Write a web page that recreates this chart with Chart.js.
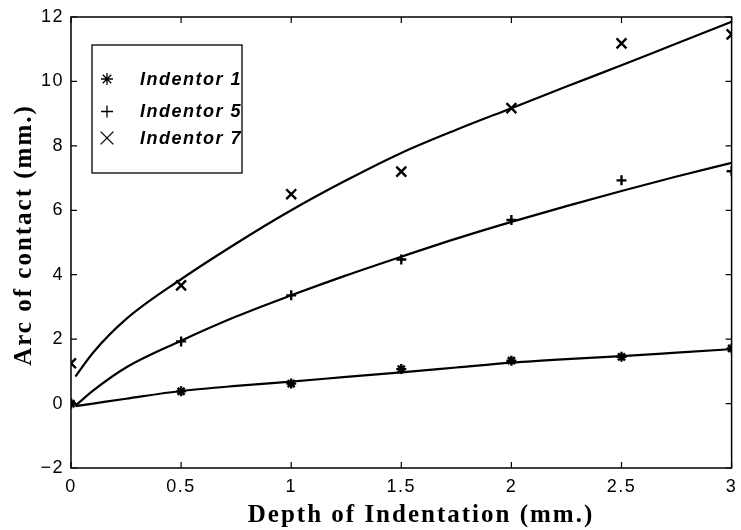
<!DOCTYPE html>
<html>
<head>
<meta charset="utf-8">
<script src="https://cdn.jsdelivr.net/npm/chart.js@4/dist/chart.umd.min.js"></script>
<style>
  html, body { margin: 0; padding: 0; background: #fff; }
  #plot { display: block; }
</style>
</head>
<body>
<canvas id="plot" width="741" height="530"></canvas>
<script>
// measured points, depth in mm
const depth = [0, 0.5, 1, 1.5, 2, 2.5, 3];
const indentor1 = [0, 0.38, 0.62, 1.07, 1.33, 1.45, 1.71];
const indentor5 = [0, 1.93, 3.36, 4.47, 5.70, 6.93, 7.21];
const indentor7 = [1.25, 3.67, 6.50, 7.20, 9.17, 11.18, 11.46];

// fitted curves
const fitDepth = [0.02, 0.1, 0.25, 0.5, 0.75, 1, 1.25, 1.5, 1.75, 2, 2.25, 2.5, 2.75, 3];
const fit1 = [-0.08, 0.0, 0.15, 0.39, 0.55, 0.68, 0.83, 0.97, 1.12, 1.27, 1.38, 1.47, 1.58, 1.69];
const fit5 = [-0.07, 0.40, 1.12, 1.95, 2.70, 3.36, 3.98, 4.56, 5.12, 5.64, 6.13, 6.60, 7.05, 7.47];
const fit7 = [0.84, 1.58, 2.62, 3.86, 4.97, 6.00, 6.93, 7.78, 8.50, 9.17, 9.84, 10.50, 11.18, 11.85];

const xTicks = [0, 0.5, 1, 1.5, 2, 2.5, 3];
const yTicks = [-2, 0, 2, 4, 6, 8, 10, 12];

const xTitle = 'Depth of Indentation (mm.)';
const yTitle = 'Arc of contact (mm.)';

const pts = (xs, ys) => xs.map((x, i) => ({ x, y: ys[i] }));

function markers(label, ys, style, r) {
  return {
    label, data: pts(depth, ys), showLine: false,
    pointStyle: style, pointRadius: r, borderColor: '#000', backgroundColor: '#000',
    pointBorderWidth: 2.4, order: 1
  };
}
function curve(ys) {
  return {
    label: 'fit', data: pts(fitDepth, ys), showLine: true,
    pointRadius: 0, borderColor: '#000', borderWidth: 2.2,
    cubicInterpolationMode: 'monotone', order: 2
  };
}

const SANS = '"Liberation Sans", Arial, sans-serif';
const SERIF = '"Liberation Serif", "Times New Roman", serif';

// box, inward ticks, axis titles and the legend
const frame = {
  id: 'frame',
  beforeDraw(chart) {
    chart.ctx.letterSpacing = '1.5px';
  },
  afterDraw(chart) {
    const { ctx, chartArea: a, scales: { x, y } } = chart;
    ctx.save();
    ctx.letterSpacing = '0px';
    ctx.strokeStyle = '#000';
    ctx.fillStyle = '#000';
    ctx.lineWidth = 1.5;
    ctx.strokeRect(a.left, a.top, a.right - a.left, a.bottom - a.top);

    ctx.lineWidth = 1.2;
    ctx.beginPath();
    xTicks.forEach(v => {
      const px = x.getPixelForValue(v);
      ctx.moveTo(px, a.bottom); ctx.lineTo(px, a.bottom - 6);
      ctx.moveTo(px, a.top); ctx.lineTo(px, a.top + 6);
    });
    yTicks.forEach(v => {
      const py = y.getPixelForValue(v);
      ctx.moveTo(a.left, py); ctx.lineTo(a.left + 6, py);
      ctx.moveTo(a.right, py); ctx.lineTo(a.right - 6, py);
    });
    ctx.stroke();

    // axis titles
    ctx.font = 'bold 25px ' + SERIF;
    ctx.letterSpacing = '2px';
    ctx.textAlign = 'center';
    ctx.textBaseline = 'alphabetic';
    ctx.fillText(xTitle, 421, 522);
    ctx.save();
    ctx.translate(31, 235);
    ctx.rotate(-Math.PI / 2);
    ctx.fillText(yTitle, 0, 0);
    ctx.restore();

    // legend
    const box = { left: 92, top: 45, right: 242, bottom: 173 };
    ctx.lineWidth = 1.3;
    ctx.strokeRect(box.left, box.top, box.right - box.left, box.bottom - box.top);
    ctx.save();
    ctx.beginPath();
    ctx.rect(box.left, box.top, box.right - box.left, box.bottom - box.top);
    ctx.clip();
    const rows = [79, 111.5, 138];
    const sizes = { star: 6, cross: 6, crossRot: 9 };
    chart.data.datasets.filter(d => !d.showLine).forEach((d, i) => {
      ctx.lineWidth = 1.3;
      Chart.helpers.drawPoint(ctx, {
        pointStyle: d.pointStyle, rotation: 0,
        radius: sizes[d.pointStyle], borderWidth: 1.3
      }, 107, rows[i]);
      ctx.font = 'italic bold 18px ' + SANS;
      ctx.letterSpacing = '1.5px';
      ctx.textAlign = 'left';
      ctx.textBaseline = 'middle';
      ctx.fillText(d.label, 140, rows[i] + 1);
    });
    ctx.restore();
    ctx.restore();
  }
};

new Chart(document.getElementById('plot'), {
  type: 'scatter',
  data: {
    datasets: [
      curve(fit1), curve(fit5), curve(fit7),
      markers('Indentor 1', indentor1, 'star', 5),
      markers('Indentor 5', indentor5, 'cross', 5),
      markers('Indentor 7', indentor7, 'crossRot', 7)
    ]
  },
  options: {
    responsive: false,
    animation: false,
    layout: { padding: { left: 0, top: 17, right: 9, bottom: 0 } },
    plugins: { legend: { display: false }, tooltip: { enabled: false } },
    scales: {
      x: {
        type: 'linear', min: 0, max: 3,
        afterBuildTicks: s => { s.ticks = xTicks.map(v => ({ value: v })); },
        afterFit: s => { s.height = 62; s.paddingLeft = 0; s.paddingRight = 0; },
        grid: { display: false, drawTicks: false },
        border: { display: false },
        ticks: {
          color: '#000', padding: 8, maxRotation: 0,
          font: { family: SANS, size: 18 },
          callback: v => String(v)
        }
      },
      y: {
        type: 'linear', min: -2, max: 12,
        afterBuildTicks: s => { s.ticks = yTicks.map(v => ({ value: v })); },
        afterFit: s => { s.width = 71; s.paddingTop = 0; s.paddingBottom = 0; },
        grid: { display: false, drawTicks: false },
        border: { display: false },
        ticks: {
          color: '#000', padding: 7,
          font: { family: SANS, size: 18 },
          callback: v => v < 0 ? '\u2212' + Math.abs(v) : String(v)
        }
      }
    }
  },
  plugins: [frame]
});
</script>
</body>
</html>
